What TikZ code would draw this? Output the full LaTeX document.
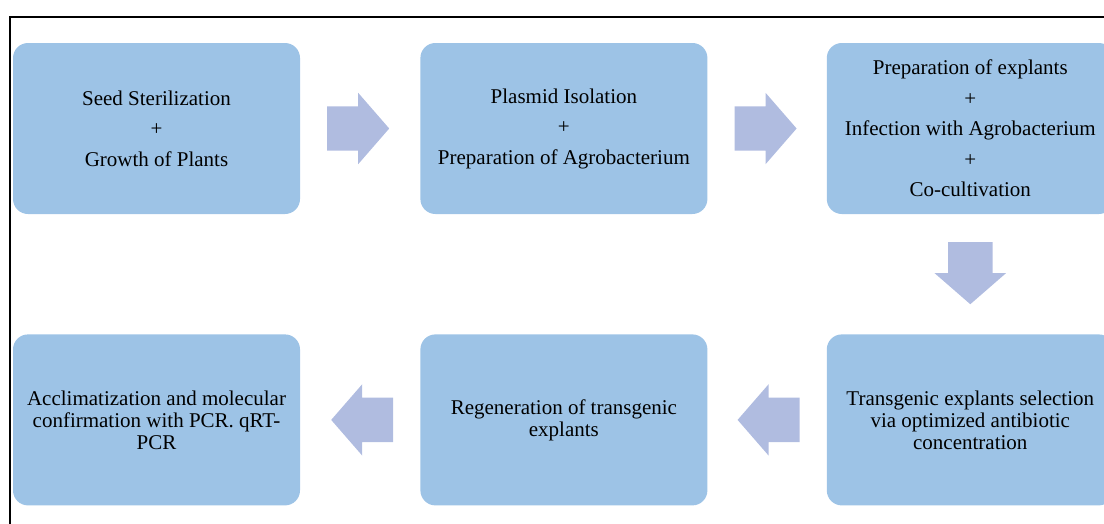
\documentclass[tikz,border=0pt]{standalone}
\usepackage{fontspec}
\setmainfont{Liberation Serif}
\usetikzlibrary{positioning,shapes.arrows,calc}
\definecolor{boxblue}{RGB}{157,195,230}
\definecolor{arrowblue}{RGB}{176,188,224}

\begin{document}
\begin{tikzpicture}[x=1pt, y=-1pt,
    stepbox/.style={fill=boxblue, rounded corners=15pt, minimum width=287pt,
      minimum height=171pt, inner sep=0pt, align=center,
      font=\fontsize{21}{22}\selectfont},
    blockarrow/.style={single arrow, fill=arrowblue, minimum height=62pt,
      single arrow head extend=13.5pt, single arrow tip angle=98,
      inner xsep=0pt, inner ysep=22pt, outer sep=0pt, anchor=tail},
    downarrow/.style={blockarrow, shape border rotate=270,
      inner xsep=22pt, inner ysep=0pt}]
    \clip (0,0) rectangle (1104,523);
    \draw[line width=2pt] (9.5,16.5) rectangle (1130,545);
    % top row
    \node[stepbox] (seed) at (156.5,128.5)
      {Seed Sterilization\\[8.5pt]+\\[8.5pt]Growth of Plants};
    \node[stepbox, right=120pt of seed] (plasmid)
      {Plasmid Isolation\\[8.5pt]+\\[8.5pt]Preparation of Agrobacterium};
    \node[stepbox, right=119pt of plasmid] (infect)
      {Preparation of explants\\[8.5pt]+\\[8.5pt]Infection with Agrobacterium\\[8.5pt]+\\[8.5pt]Co-cultivation};
    % bottom row
    \node[stepbox, below=120pt of infect] (select)
      {Transgenic explants selection\\via optimized antibiotic\\concentration};
    \node[stepbox, left=119pt of select] (regen)
      {Regeneration of transgenic\\explants};
    \node[stepbox, left=120pt of regen] (acclim)
      {Acclimatization and molecular\\confirmation with PCR. qRT-\\PCR};
    % arrows
    \node[blockarrow] (seedtoplasmid) at ($(seed.east)+(27,0)$) {};
    \node[blockarrow] (plasmidtoinfect) at ($(plasmid.east)+(27,0)$) {};
    \node[downarrow] (infecttoselect) at ($(infect.south)+(0,28)$) {};
    \node[blockarrow, shape border rotate=180] (selecttoregen) at ($(select.west)+(-27,0)$) {};
    \node[blockarrow, shape border rotate=180] (regentoacclim) at ($(regen.west)+(-27,0)$) {};
\end{tikzpicture}
\end{document}
